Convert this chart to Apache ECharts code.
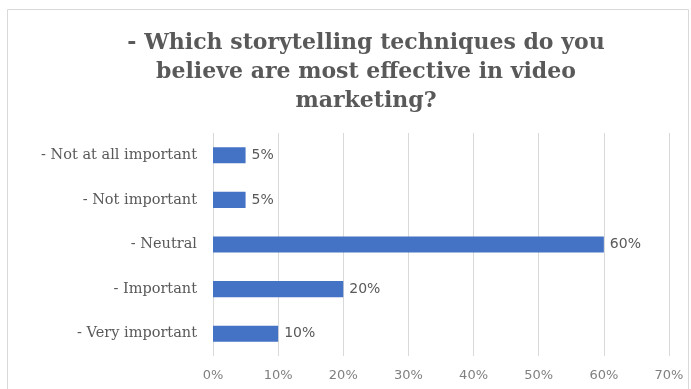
<!DOCTYPE html>
<html>
<head>
<meta charset="utf-8">
<script src="https://cdn.jsdelivr.net/npm/echarts@6/dist/echarts.min.js"></script>
<style>
  html, body { margin: 0; padding: 0; background: #fff; }
  #chart { width: 691px; height: 389px; }
</style>
</head>
<body>
<div id="chart"></div>
<script>
// Survey answers, listed bottom-to-top as the category axis draws them
const categories = [
  '- Very important',
  '- Important',
  '- Neutral',
  '- Not important',
  '- Not at all important'
];
const shares = [10, 20, 60, 5, 5];
const tickValues = [0, 10, 20, 30, 40, 50, 60, 70];

const chart = echarts.init(document.getElementById('chart'));

chart.setOption({
  backgroundColor: '#ffffff',
  animation: false,
  title: {
    text: '- Which storytelling techniques do you\nbelieve are most effective in video\nmarketing?',
    left: 361,
    top: 24,
    textAlign: 'center',
    textStyle: {
      fontFamily: 'DejaVu Serif',
      fontWeight: 'bold',
      fontSize: 22,
      lineHeight: 29,
      color: '#595959'
    }
  },
  graphic: [{
    type: 'rect',
    shape: { x: 7.5, y: 9.5, width: 681, height: 400 },
    style: { fill: 'none', stroke: '#d9d9d9', lineWidth: 1 },
    silent: true
  }],
  grid: {
    left: 213,
    right: 22,
    top: 133,
    bottom: 33,
    containLabel: false
  },
  xAxis: {
    type: 'value',
    min: tickValues[0],
    max: tickValues[tickValues.length - 1],
    interval: 10,
    axisLine: { show: false },
    axisTick: { show: false },
    splitLine: { show: true, lineStyle: { color: '#d9d9d9', width: 1 } },
    axisLabel: {
      formatter: v => v + '%',
      color: '#7f7f7f',
      fontFamily: 'DejaVu Sans',
      fontSize: 13,
      margin: 13
    }
  },
  yAxis: {
    type: 'category',
    data: categories,
    axisLine: { show: false },
    axisTick: { show: false },
    axisLabel: {
      color: '#595959',
      fontFamily: 'DejaVu Serif',
      fontSize: 14.5,
      margin: 16
    }
  },
  series: [{
    type: 'bar',
    data: shares,
    barWidth: '36%',
    itemStyle: { color: '#4472c4' },
    label: {
      show: true,
      position: 'right',
      distance: 6,
      formatter: p => p.value + '%',
      color: '#595959',
      fontFamily: 'DejaVu Sans',
      fontSize: 14
    }
  }]
});
</script>
</body>
</html>
